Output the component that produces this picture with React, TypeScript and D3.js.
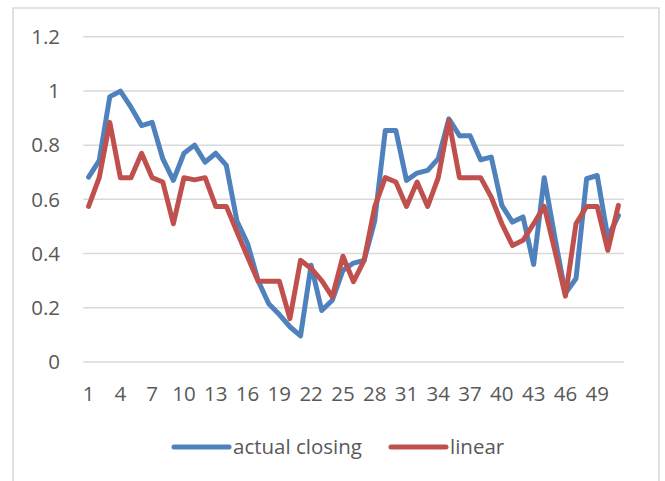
import * as d3 from "d3";
import { useEffect, useRef } from "react";

// day numbers along the x axis
const days = d3.range(1, 52);

const actualClosing = [
  0.682, 0.743, 0.979, 0.999, 0.94, 0.872, 0.884, 0.75, 0.67, 0.77,
  0.8, 0.737, 0.77, 0.725, 0.52, 0.437, 0.3, 0.215, 0.175, 0.13,
  0.096, 0.357, 0.19, 0.228, 0.338, 0.365, 0.375, 0.52, 0.854, 0.854,
  0.67, 0.697, 0.707, 0.75, 0.897, 0.835, 0.835, 0.746, 0.756, 0.578,
  0.516, 0.535, 0.36, 0.68, 0.46, 0.253, 0.308, 0.676, 0.688, 0.46,
  0.54,
];

const linear = [
  0.574, 0.68, 0.884, 0.68, 0.68, 0.77, 0.68, 0.664, 0.51, 0.68,
  0.672, 0.68, 0.574, 0.574, 0.48, 0.388, 0.298, 0.298, 0.298, 0.16,
  0.375, 0.345, 0.3, 0.24, 0.39, 0.296, 0.375, 0.572, 0.68, 0.664,
  0.574, 0.664, 0.574, 0.68, 0.89, 0.68, 0.68, 0.68, 0.608, 0.51,
  0.43, 0.449, 0.51, 0.574, 0.412, 0.243, 0.51, 0.574, 0.574, 0.412,
  0.578,
];

const yTicks = [0, 0.2, 0.4, 0.6, 0.8, 1, 1.2];

const series = [
  { name: "actual closing", values: actualClosing, color: "#4F81BD" },
  { name: "linear", values: linear, color: "#C0504D" },
];

const W = 665;
const H = 481;
const plot = { left: 83.3, right: 623.7, top: 36.7, bottom: 362 };
const font = "'Open Sans', sans-serif";
const textColor = "#595959";
const gridColor = "#d9d9d9";

const App = () => {
  const ref = useRef(null);

  useEffect(() => {
    const svg = d3.select(ref.current);
    svg.selectAll("*").remove();

    const x = d3
      .scaleBand()
      .domain(days.map(String))
      .range([plot.left, plot.right]);
    const y = d3.scaleLinear().domain([0, 1.2]).range([plot.bottom, plot.top]);
    const cx = (d) => x(String(d)) + x.bandwidth() / 2;

    // outer frame (bottom edge falls outside the picture)
    svg.append("path")
      .attr("d", `M13,${H + 5}V8H659V${H + 5}`)
      .attr("fill", "none")
      .attr("stroke", gridColor)
      .attr("stroke-width", 1.5);

    // gridlines
    svg.append("g")
      .selectAll("line")
      .data(yTicks)
      .enter()
      .append("line")
      .attr("x1", plot.left)
      .attr("x2", plot.right)
      .attr("y1", d => y(d))
      .attr("y2", d => y(d))
      .attr("stroke", gridColor)
      .attr("stroke-width", 1.5);

    // y labels
    svg.append("g")
      .selectAll("text")
      .data(yTicks)
      .enter()
      .append("text")
      .attr("x", 60)
      .attr("y", d => y(d))
      .attr("dy", "0.35em")
      .attr("text-anchor", "end")
      .attr("font-family", font)
      .attr("font-size", 20.5)
      .attr("fill", textColor)
      .text(d => String(d));

    // x labels, every third day
    svg.append("g")
      .selectAll("text")
      .data(days.filter(d => (d - 1) % 3 === 0))
      .enter()
      .append("text")
      .attr("x", cx)
      .attr("y", 401)
      .attr("text-anchor", "middle")
      .attr("font-family", font)
      .attr("font-size", 20.5)
      .attr("fill", textColor)
      .text(d => String(d));

    const line = d3
      .line()
      .x((d, i) => cx(days[i]))
      .y(d => y(d));

    series.forEach(s => {
      svg.append("path")
        .datum(s.values)
        .attr("d", line)
        .attr("fill", "none")
        .attr("stroke", s.color)
        .attr("stroke-width", 5)
        .attr("stroke-linejoin", "round")
        .attr("stroke-linecap", "round");
    });

    // legend
    const legendX = [174, 391];
    series.forEach((s, i) => {
      const g = svg.append("g").attr("transform", `translate(${legendX[i]}, 447)`);
      g.append("line")
        .attr("x1", 0)
        .attr("x2", 55)
        .attr("stroke", s.color)
        .attr("stroke-width", 5)
        .attr("stroke-linecap", "round");
      g.append("text")
        .attr("x", 59)
        .attr("dy", "0.35em")
        .attr("font-family", font)
        .attr("font-size", 20.5)
        .attr("fill", textColor)
        .text(s.name);
    });
  }, []);

  return (
    <svg
      ref={ref}
      width={W}
      height={H}
      style={{ position: "absolute", left: 0, top: 0, background: "#fff" }}
    />
  );
};

export default App;
